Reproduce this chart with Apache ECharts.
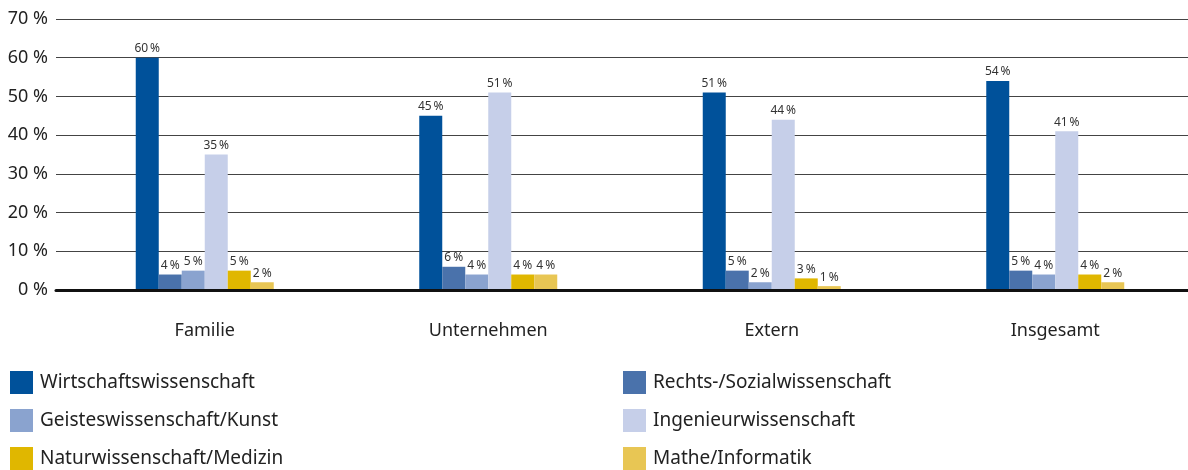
<!DOCTYPE html>
<html>
<head>
<meta charset="utf-8">
<script src="https://cdn.jsdelivr.net/npm/echarts@6/dist/echarts.min.js"></script>
<style>
  html, body { margin: 0; padding: 0; background: #fff; }
  #main { width: 1188px; height: 470px; }
</style>
</head>
<body>
<div id="main"></div>
<script>
// Kategorien und Werte (Prozent)
const categories = ['Familie', 'Unternehmen', 'Extern', 'Insgesamt'];
const seriesNames = [
  'Wirtschaftswissenschaft',
  'Rechts-/Sozialwissenschaft',
  'Geisteswissenschaft/Kunst',
  'Ingenieurwissenschaft',
  'Naturwissenschaft/Medizin',
  'Mathe/Informatik'
];
const wirtschaft = [60, 45, 51, 54];
const rechtsSozial = [4, 6, 5, 5];
const geistesKunst = [5, 4, 2, 4];
const ingenieur = [35, 51, 44, 41];
const naturMedizin = [5, 4, 3, 4];
const matheInfo = [2, 4, 1, 2];
const yTicks = [0, 10, 20, 30, 40, 50, 60, 70];

const colors = ['#00519a', '#4a72ab', '#8aa3cf', '#c6cfe9', '#e0b700', '#e8c654'];
const values = [wirtschaft, rechtsSozial, geistesKunst, ingenieur, naturMedizin, matheInfo];
const font = 'Noto Sans';

// Gruppenbreite in px; das Diagramm läuft rechts etwas über den Rand hinaus
const groupPx = 283.5;
const plotLeft = 63;
const plotWidth = 1188 - plotLeft;

const myChart = echarts.init(document.getElementById('main'));

const series = seriesNames.map((name, i) => ({
  name: name,
  type: 'bar',
  xAxisIndex: 1,
  yAxisIndex: 1,
  barWidth: 23,
  barGap: '0%',
  itemStyle: { color: colors[i] },
  label: {
    show: true,
    position: 'top',
    distance: 3,
    color: '#333',
    fontFamily: font,
    fontSize: 12,
    formatter: p => p.value[1] + '\u2009%'
  },
  // Gruppe k sitzt bei k + 0.5 auf der Werteachse
  data: values[i].map((v, k) => [k + 0.5, v])
}));

// Legende: zwei Spalten, je drei Zeilen (ein Legendenblock pro Eintrag)
const legends = seriesNames.map((name, i) => ({
  left: i % 2 === 0 ? 10 : 623,
  top: 371 + Math.floor(i / 2) * 38,
  icon: 'rect',
  itemWidth: 23,
  itemHeight: 23,
  padding: 0,
  textStyle: { fontFamily: font, fontSize: 19, color: '#222', padding: [0, 0, 0, 2] },
  data: [name]
}));

myChart.setOption({
  animation: false,
  grid: [
    { left: 56, right: 0, top: 19, bottom: 180 },
    { left: plotLeft, right: 0, top: 19, bottom: 180 }
  ],
  legend: legends,
  xAxis: [
    {
      gridIndex: 0,
      type: 'category',
      data: categories,
      z: 10,
      axisLine: { lineStyle: { color: '#111', width: 3 } },
      axisTick: { show: false },
      axisLabel: { show: false }
    },
    {
      gridIndex: 1,
      type: 'value',
      min: 0,
      max: plotWidth / groupPx,
      interval: 0.5,
      axisLine: { show: false },
      axisTick: { show: false },
      splitLine: { show: false },
      axisLabel: {
        margin: 32,
        showMaxLabel: false,
        color: '#222',
        fontFamily: font,
        fontSize: 18,
        formatter: v => (v % 1 === 0.5 ? categories[Math.floor(v)] : '')
      }
    }
  ],
  yAxis: [
    {
      gridIndex: 0,
      type: 'value',
      min: yTicks[0],
      max: yTicks[yTicks.length - 1],
      interval: 10,
      axisLine: { show: false },
      axisTick: { show: false },
      axisLabel: { margin: 8, color: '#222', fontFamily: font, fontSize: 18, formatter: '{value} %' },
      splitLine: { lineStyle: { color: '#444', width: 1 } }
    },
    {
      gridIndex: 1,
      type: 'value',
      min: yTicks[0],
      max: yTicks[yTicks.length - 1],
      interval: 10,
      show: false,
      splitLine: { show: false }
    }
  ],
  series: series
});
</script>
</body>
</html>
